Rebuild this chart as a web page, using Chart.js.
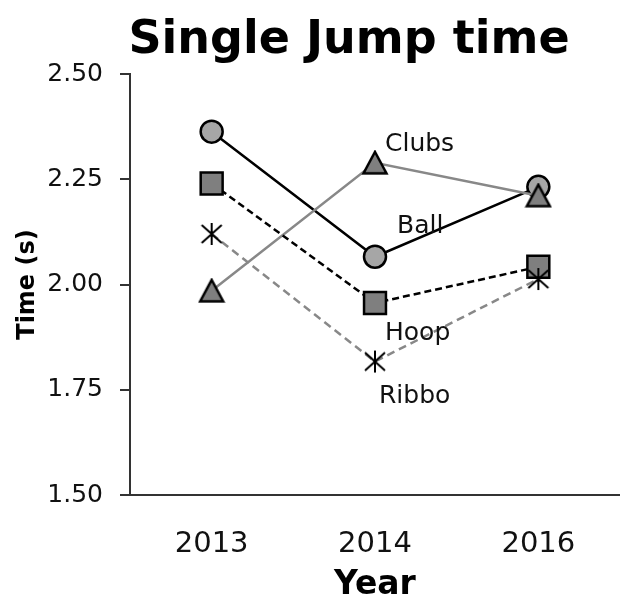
<!DOCTYPE html>
<html>
<head>
<meta charset="utf-8">
<script src="https://cdn.jsdelivr.net/npm/chart.js@4.4.1/dist/chart.umd.min.js"></script>
<style>
  html, body { margin: 0; padding: 0; background: #fff; overflow: hidden; }
  #wrap { width: 620px; height: 605px; position: relative; }
  #c { display: block; }
</style>
</head>
<body>
<div id="wrap"><canvas id="c"></canvas></div>
<script>
// Jump times per apparatus
const years = ['2013', '2014', '2016'];
const seriesNames = ['Ball', 'Clubs', 'Hoop', 'Ribbo'];
const ball = [2.363, 2.066, 2.232];
const clubs = [1.985, 2.289, 2.211];
const hoop = [2.240, 1.956, 2.042];
const ribbon = [2.120, 1.817, 2.013];
const yTicks = [1.50, 1.75, 2.00, 2.25, 2.50];

const FONT = '"DejaVu Sans", Verdana, sans-serif';

// asterisk marker: vertical bar plus an X
function asteriskMarker() {
  const c = document.createElement('canvas');
  c.width = 24; c.height = 26;
  const g = c.getContext('2d');
  g.strokeStyle = '#000';
  g.lineWidth = 2;
  g.beginPath();
  g.moveTo(12, 2); g.lineTo(12, 24);
  g.moveTo(2, 4); g.lineTo(22, 22);
  g.moveTo(22, 4); g.lineTo(2, 22);
  g.stroke();
  return c;
}

// triangle marker centred on its bounding box
function triangleMarker() {
  const c = document.createElement('canvas');
  c.width = 28; c.height = 26;
  const g = c.getContext('2d');
  g.beginPath();
  g.moveTo(14, 2);
  g.lineTo(25.5, 23.5);
  g.lineTo(2.5, 23.5);
  g.closePath();
  g.fillStyle = '#7f7f7f';
  g.fill();
  g.lineWidth = 2.5;
  g.strokeStyle = '#000';
  g.stroke();
  return c;
}

// name tags beside the 2014 point of each series
const tagOffsets = { Ball: [22, -30], Clubs: [10, -18], Hoop: [10, 30], Ribbo: [4, 35] };
const seriesTags = {
  id: 'seriesTags',
  afterDatasetsDraw(chart) {
    const ctx = chart.ctx;
    ctx.save();
    ctx.font = '25px ' + FONT;
    ctx.fillStyle = '#111';
    ctx.textAlign = 'left';
    ctx.textBaseline = 'middle';
    chart.data.datasets.forEach((ds, i) => {
      const pt = chart.getDatasetMeta(i).data[1];
      const off = tagOffsets[ds.label];
      ctx.fillText(ds.label, pt.x + off[0], pt.y + off[1]);
    });
    ctx.restore();
  }
};

// chart heading
const heading = {
  id: 'heading',
  afterDraw(chart) {
    const ctx = chart.ctx;
    const a = chart.chartArea;
    ctx.save();
    ctx.font = 'bold 46px ' + FONT;
    ctx.fillStyle = '#000';
    ctx.textAlign = 'center';
    ctx.textBaseline = 'alphabetic';
    ctx.fillText('Single Jump time', a.left + 219, a.top - 21);
    ctx.restore();
  }
};

new Chart(document.getElementById('c'), {
  type: 'line',
  data: {
    labels: years,
    datasets: [
      {
        label: seriesNames[0], data: ball, order: 3,
        borderColor: '#000', borderWidth: 2.5,
        pointStyle: 'circle', pointRadius: 11, pointHoverRadius: 11,
        pointBackgroundColor: '#a6a6a6', pointBorderColor: '#000', pointBorderWidth: 2.5
      },
      {
        label: seriesNames[1], data: clubs, order: 2,
        borderColor: '#888', borderWidth: 2.5,
        pointStyle: triangleMarker(), pointRadius: 13, pointHoverRadius: 13
      },
      {
        label: seriesNames[2], data: hoop, order: 1,
        borderColor: '#000', borderWidth: 2.5, borderDash: [7, 4],
        pointStyle: 'rect', pointRadius: 15.5, pointHoverRadius: 15.5,
        pointBackgroundColor: '#7f7f7f', pointBorderColor: '#000', pointBorderWidth: 2.5
      },
      {
        label: seriesNames[3], data: ribbon, order: 0,
        borderColor: '#888', borderWidth: 2.5, borderDash: [8, 5],
        pointStyle: asteriskMarker(), pointRadius: 12, pointHoverRadius: 12
      }
    ]
  },
  options: {
    responsive: true,
    maintainAspectRatio: false,
    animation: false,
    events: [],
    layout: { autoPadding: false, padding: { top: 74, right: 0, bottom: 0, left: 0 } },
    plugins: {
      legend: { display: false },
      tooltip: { enabled: false },
      title: { display: false }
    },
    scales: {
      x: {
        offset: true,
        grid: { display: false, drawTicks: false },
        border: { display: true, color: '#333', width: 2 },
        ticks: { color: '#111', font: { family: FONT, size: 29 }, padding: 32 },
        title: { display: true, text: 'Year', color: '#000', font: { family: FONT, size: 33, weight: 'bold' }, padding: { top: 0, bottom: 0 } },
        afterFit(scale) { scale.height = 110; scale.paddingLeft = 0; scale.paddingRight = 0; }
      },
      y: {
        min: 1.5, max: 2.5,
        afterBuildTicks(scale) { scale.ticks = yTicks.map(v => ({ value: v })); },
        grid: { drawOnChartArea: false, drawTicks: true, tickLength: 10, color: '#333', lineWidth: 2 },
        border: { display: true, color: '#333', width: 2 },
        ticks: { color: '#111', font: { family: FONT, size: 25 }, padding: 17, callback: v => Number(v).toFixed(2) },
        title: { display: true, text: 'Time (s)', color: '#000', font: { family: FONT, size: 24, weight: 'bold' }, padding: { top: 13, bottom: 0 } },
        afterFit(scale) { scale.width = 130; scale.paddingTop = 0; scale.paddingBottom = 0; }
      }
    }
  },
  plugins: [seriesTags, heading]
});
</script>
</body>
</html>
